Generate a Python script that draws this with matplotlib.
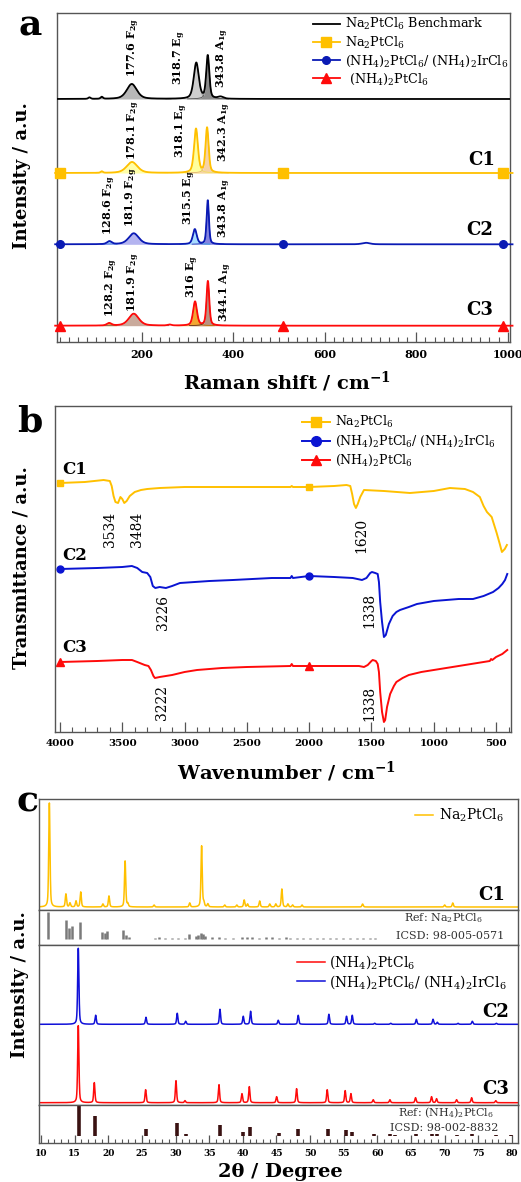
import numpy as np
import matplotlib
matplotlib.use('Agg')
import matplotlib.pyplot as plt
from matplotlib.ticker import MultipleLocator

plt.rcParams['font.family'] = ['DejaVu Serif']
plt.rcParams['mathtext.fontset'] = 'dejavuserif'

# ---------------- Panel a : Raman peak tables ----------------
raman_base = [243, 169, 97.7, 16.3]          # baseline of each offset trace
bench_pos = [85, 112, 177.6, 318.7, 343.8, 372]
bench_hgt = [1.5, 2, 15, 36, 43, 2]
bench_fwhm = [6, 6, 26, 13, 8, 14]
c1r_pos = [112, 178.1, 318.1, 342.3]
c1r_hgt = [1.5, 11, 44, 45]
c1r_fwhm = [6, 28, 10, 8]
c2r_pos = [128.6, 181.9, 315.5, 343.8, 690]
c2r_hgt = [3, 11, 15, 44, 1.5]
c2r_fwhm = [12, 26, 10, 6, 20]
c3r_pos = [128.2, 181.9, 260, 316, 344.1]
c3r_hgt = [2.5, 12, 1, 24, 44.5]
c3r_fwhm = [12, 26, 10, 10, 7]
raman_marker_x = [20, 508, 990]

# ---------------- Panel b : FTIR traces ----------------
ir_c1_wn = [4000, 3800, 3650, 3600, 3585, 3570, 3555, 3534, 3515, 3500, 3484, 3465, 3440, 3400, 3350,
            3300, 3200, 3000, 2500, 2150, 2140, 2130, 2000, 1800, 1700, 1670, 1655, 1640, 1625, 1610,
            1590, 1560, 1400, 1191, 1000, 870, 750, 685, 630, 600, 573, 535, 495, 470, 453, 430, 413]
ir_c1_t = [249, 250, 252, 251, 246, 236, 230, 229, 235, 233, 229, 231, 236, 240, 242,
           243, 244, 245, 245, 245, 246, 245, 245, 246, 247, 246, 238, 228, 224, 228,
           235, 242, 241, 239, 241, 244, 243, 240, 235, 226, 220, 215, 199, 188, 180, 183, 187]
ir_c2_wn = [4000, 3700, 3500, 3423, 3380, 3340, 3300, 3275, 3255, 3235, 3200, 3150, 3100, 3037, 2800,
            2612, 2300, 2150, 2140, 2130, 2000, 1800, 1650, 1576, 1540, 1510, 1496, 1470, 1450, 1440,
            1430, 1415, 1400, 1385, 1360, 1330, 1300, 1271, 1200, 1135, 1000, 900, 800, 685, 600,
            524, 480, 450, 428, 410]
ir_c2_t = [163, 164, 165, 166, 164, 160, 159, 155, 146, 144, 145, 144, 146, 149, 151,
           152, 154, 154, 156, 154, 156, 155, 154, 152, 154, 159, 160, 159, 158, 150,
           130, 110, 95, 97, 108, 116, 120, 122, 125, 128, 131, 132, 133, 133, 136,
           140, 144, 148, 152, 158]
ir_c3_wn = [4000, 3700, 3500, 3422, 3380, 3320, 3290, 3270, 3250, 3238, 3200, 3150, 3100, 3000, 2900,
            2700, 2500, 2150, 2140, 2130, 2000, 1800, 1600, 1560, 1530, 1500, 1490, 1465, 1450, 1440,
            1430, 1415, 1400, 1390, 1375, 1350, 1320, 1300, 1250, 1200, 1100, 1000, 900, 800, 700,
            600, 550, 540, 530, 500, 450, 410]
ir_c3_t = [70, 71, 72, 72, 70, 67, 66, 62, 56, 54, 55, 56, 57, 60, 62,
           64, 65, 66, 68, 66, 66, 66, 66, 65, 67, 71, 72, 71, 68, 60,
           40, 20, 10, 12, 25, 38, 46, 50, 54, 57, 60, 62, 64, 66, 68,
           70, 71, 73, 72, 75, 78, 82]
ir_marker_wn = [4000, 2000]
ir_labels = ['3534', '3484', '1620', '3226', '1338', '3222', '1338']
ir_label_x = [3599, 3382, 1584, 3173, 1520, 3181, 1520]
ir_label_y = [203, 203, 197, 119, 122, 30, 29]

# ---------------- Panel c : XRD peak tables ----------------
xrd_c1_pos = [11.24, 13.7, 14.3, 15.2, 15.9, 19.2, 20.1, 22.5, 22.9, 26.8, 32.1, 33.87, 34.2, 34.8,
              37.3, 39.1, 40.2, 40.7, 42.5, 44.0, 44.9, 45.8, 46.7, 47.4, 48.8, 57.8, 70.0, 71.2]
xrd_c1_int = [104, 13, 4, 6, 15, 3, 11, 46, 3, 2, 4, 61, 4, 3,
              2, 2, 7, 3, 6, 3, 3, 18, 3, 2, 2, 3, 2, 4]
xrd_c1_base = 3
ref_na_pos = [11.04, 13.67, 14.16, 14.65, 15.8, 19.1, 19.46, 19.85, 22.2, 22.6, 23.1, 26.9, 27.6, 28.4,
              29.4, 30.4, 31.4, 32.0, 33.0, 33.4, 33.8, 34.1, 34.4, 35.4, 36.4, 37.4, 38.6, 39.9, 40.6,
              41.4, 42.4, 43.4, 44.4, 45.4, 46.4, 47.0, 48.0, 49.0, 50.0, 51.0, 51.95, 52.9, 53.9, 54.9,
              55.9, 56.9, 57.9, 58.9, 59.6]
ref_na_int = [27, 19, 11, 13, 17, 7, 6, 8, 9, 4, 2, 1.5, 2, 1.5,
              1.5, 1, 1, 5, 3, 4, 6, 5, 3, 2, 2, 1.5, 1.5, 2, 2,
              2, 1.5, 2, 2, 1.5, 2, 1.5, 1.5, 1, 1.5, 1.5, 1, 1.5, 1.5, 1,
              1.5, 1.5, 1, 1.5, 1]
ref_na_base = 5.7
xrd_c2_pos = [15.54, 18.12, 25.6, 30.25, 31.5, 36.6, 40.06, 41.15, 45.26, 48.23, 52.79, 55.41, 56.26,
              59.6, 61.98, 65.79, 68.27, 68.91, 71.98, 74.11, 77.68]
xrd_c2_int = [76, 9, 7, 11, 3, 15, 8, 13, 4, 9, 10, 8, 9, 1, 1, 5, 5, 2, 1, 3, 1]
xrd_c2_base = 80.7
xrd_c3_pos = [15.54, 17.92, 25.55, 30.06, 31.40, 36.45, 39.87, 40.96, 45.02, 47.99, 52.54, 55.21, 56.06,
              59.38, 61.86, 65.67, 68.05, 68.79, 71.77, 74.0, 77.6]
xrd_c3_int = [77, 20, 13, 22, 2, 18, 9, 16, 6, 14, 13, 12, 9, 3, 3, 5, 6, 4, 3, 5, 2]
xrd_c3_base = 2.3
ref_nh_pos = [15.6, 18.0, 25.65, 30.2, 31.55, 36.6, 40.0, 41.1, 45.3, 48.2, 52.7, 55.3, 56.2, 59.5,
              61.9, 62.6, 65.7, 68.1, 68.8, 71.9, 74.0, 77.6, 79.8]
ref_nh_int = [30, 20, 7, 13, 2, 11, 4, 9, 3, 7, 7, 6, 4, 2, 2, 1, 2, 2, 2, 1, 2, 1, 1]
ref_nh_base = 7

YEL = '#FFC000'
BLU = '#1414c8'
RED = '#ff0a0a'
SPINE = '#555555'


def pv(x, c, h, w):
    g = np.exp(-4 * np.log(2) * ((x - c) / w) ** 2)
    lo = 1.0 / (1 + 4 * ((x - c) / w) ** 2)
    return h * (0.55 * g + 0.45 * lo)


W, H = 521, 1182
fig = plt.figure(figsize=(W / 100, H / 100), dpi=100)


def axes_px(l, t, r, b):
    return fig.add_axes([l / W, 1 - b / H, (r - l) / W, (b - t) / H])


def style_spines(ax):
    for s in ax.spines.values():
        s.set_color(SPINE)
        s.set_linewidth(1.0)


# =========================== Panel a ===========================
axa = axes_px(57, 13, 510, 342)
xr = np.arange(10, 1011, 0.5)
samples = [
    (bench_pos, bench_hgt, bench_fwhm, '#000000', None, 'Na$_2$PtCl$_6$ Benchmark',
     [2, 3, 4], ['#b8b8b8', '#cdcdcd', '#8c8c8c'], ['#808080', '#909090', '#505050']),
    (c1r_pos, c1r_hgt, c1r_fwhm, YEL, 's', 'Na$_2$PtCl$_6$',
     [1, 2, 3], ['#ffffa8', '#ffff9c', '#f6d2a6'], ['#f0e060', '#f0e060', '#e0b070']),
    (c2r_pos, c2r_hgt, c2r_fwhm, '#0a1ab4', 'o', '(NH$_4$)$_2$PtCl$_6$/ (NH$_4$)$_2$IrCl$_6$',
     [0, 1, 2, 3], ['#8ccfff', '#b4b4f0', '#a8dcff', '#8484e0'], ['#40a0ff', '#6060d0', '#2ca0e0', '#3030b0']),
    (c3r_pos, c3r_hgt, c3r_fwhm, RED, '^', ' (NH$_4$)$_2$PtCl$_6$',
     [0, 1, 3, 4], ['#f0b040', '#c9aa9c', '#f2a630', '#b99282'], ['#d08000', '#806060', '#c07000', '#603020']),
]
msizes = {'s': 7.5, 'o': 5.5, '^': 6.5}
for k, (pos, hgt, fw, col, mk, lab, fidx, fcol, ecol) in enumerate(samples):
    base = raman_base[k]
    y = base + sum(pv(xr, p, h, w) for p, h, w in zip(pos, hgt, fw))
    for j, i in enumerate(fidx):
        comp = pv(xr, pos[i], hgt[i], fw[i])
        m = comp > 0.15
        axa.fill_between(xr[m], base, base + comp[m], color=fcol[j], lw=0, zorder=2)
        axa.plot(xr[m], base + comp[m], color=ecol[j], lw=0.6, zorder=2.5)
    if mk is None:
        axa.plot(xr, y, color=col, lw=1.3, label=lab, zorder=3)
    else:
        idx = [int(np.argmin(np.abs(xr - v))) for v in raman_marker_x]
        axa.plot(xr, y, color=col, lw=1.3, marker=mk, ms=msizes[mk], markevery=idx,
                 label=lab, zorder=3, clip_on=False)

axa.set_xlim(14, 1005)
axa.set_ylim(0, 329)
axa.set_yticks([])
axa.set_xticks([200, 400, 600, 800, 1000])
axa.xaxis.set_minor_locator(MultipleLocator(20))
axa.tick_params(axis='x', which='major', direction='in', length=7, width=0.9, colors=SPINE,
                labelcolor='black', labelsize=8, pad=5)
axa.tick_params(axis='x', which='minor', direction='in', length=3.5, width=0.8, colors=SPINE)
for t in axa.get_xticklabels():
    t.set_fontweight('bold')
style_spines(axa)
axa.legend(loc='upper left', bbox_to_anchor=(0.565, 0.99), frameon=False, fontsize=9.2,
           handlelength=2.1, handletextpad=0.4, labelspacing=0.2, borderpad=0, borderaxespad=0)

ann_a = [
    ('177.6 F$_{\\mathbf{2g}}$', 181, 265), ('318.7 E$_{\\mathbf{g}}$', 282, 257),
    ('343.8 A$_{\\mathbf{1g}}$', 376, 254),
    ('178.1 F$_{\\mathbf{2g}}$', 181, 182), ('318.1 E$_{\\mathbf{g}}$', 286, 184),
    ('342.3 A$_{\\mathbf{1g}}$', 380, 180),
    ('128.6 F$_{\\mathbf{2g}}$', 130, 107), ('181.9 F$_{\\mathbf{2g}}$', 177, 115),
    ('315.5 E$_{\\mathbf{g}}$', 304, 117), ('343.8 A$_{\\mathbf{1g}}$', 380, 104),
    ('128.2 F$_{\\mathbf{2g}}$', 133, 25), ('181.9 F$_{\\mathbf{2g}}$', 181, 30),
    ('316 E$_{\\mathbf{g}}$', 311, 44), ('344.1 A$_{\\mathbf{1g}}$', 384, 20),
]
for s, xx, yy in ann_a:
    axa.text(xx, yy, s, rotation=90, ha='center', va='bottom', fontsize=8, fontweight='bold', zorder=5)
for s, xx, yy in [('C1', 943, 182), ('C2', 938, 112), ('C3', 938, 32)]:
    axa.text(xx, yy, s, ha='center', va='center', fontsize=13, fontweight='bold')

# =========================== Panel b ===========================
axb = axes_px(55, 406, 511, 732)
for wn, tt, col, mk, lab, ms in [
        (ir_c1_wn, ir_c1_t, YEL, 's', 'Na$_2$PtCl$_6$', 5),
        (ir_c2_wn, ir_c2_t, '#0a14d2', 'o', '(NH$_4$)$_2$PtCl$_6$/ (NH$_4$)$_2$IrCl$_6$', 5),
        (ir_c3_wn, ir_c3_t, RED, '^', '(NH$_4$)$_2$PtCl$_6$', 5.5)]:
    idx = [wn.index(v) for v in ir_marker_wn]
    axb.plot(wn, tt, color=col, lw=1.4, marker=mk, ms=ms, markevery=idx, label=lab)
axb.set_xlim(4040, 380)
axb.set_ylim(0, 326)
axb.set_yticks([])
axb.set_xticks([4000, 3500, 3000, 2500, 2000, 1500, 1000, 500])
axb.xaxis.set_minor_locator(MultipleLocator(100))
axb.tick_params(axis='x', which='major', direction='in', length=7, width=0.9, colors=SPINE,
                labelcolor='black', labelsize=7.5, pad=5)
axb.tick_params(axis='x', which='minor', direction='in', length=3.5, width=0.8, colors=SPINE)
for t in axb.get_xticklabels():
    t.set_fontweight('bold')
style_spines(axb)
lb = axb.legend(loc='upper left', bbox_to_anchor=(0.542, 0.975), frameon=False, fontsize=9,
                handlelength=2.2, handletextpad=0.4, labelspacing=0.3, borderpad=0, borderaxespad=0,
                markerscale=1.4)
for s, xx, yy in zip(ir_labels, ir_label_x, ir_label_y):
    axb.text(xx, yy, s, rotation=90, ha='center', va='center', fontsize=10)
for s, xx, yy in [('C1', 3880, 262), ('C2', 3880, 176), ('C3', 3880, 84)]:
    axb.text(xx, yy, s, ha='center', va='center', fontsize=12, fontweight='bold')

# =========================== Panel c ===========================
axc1 = axes_px(39, 799, 518, 910)
axr1 = axes_px(39, 910, 518, 945)
axc2 = axes_px(39, 945, 518, 1105)
axr2 = axes_px(39, 1105, 518, 1143)
xx2 = np.arange(9.7, 80.9, 0.01)
fw_x = 0.22
y1 = xrd_c1_base + sum(pv(xx2, p, h, fw_x) for p, h in zip(xrd_c1_pos, xrd_c1_int))
axc1.plot(xx2, y1, color=YEL, lw=1.1, label='Na$_2$PtCl$_6$')
axc1.set_ylim(0, 111)
axr1.vlines(ref_na_pos, ref_na_base, np.array(ref_na_int) + ref_na_base, color='#7a7a7a', lw=1.8)
axr1.set_ylim(0, 35)
y3 = xrd_c3_base + sum(pv(xx2, p, h, fw_x) for p, h in zip(xrd_c3_pos, xrd_c3_int))
y2 = xrd_c2_base + sum(pv(xx2, p, h, fw_x) for p, h in zip(xrd_c2_pos, xrd_c2_int))
axc2.plot(xx2, y3, color=RED, lw=1.1, label='(NH$_4$)$_2$PtCl$_6$')
axc2.plot(xx2, y2, color='#1010d8', lw=1.1, label='(NH$_4$)$_2$PtCl$_6$/ (NH$_4$)$_2$IrCl$_6$')
axc2.set_ylim(0, 160)
axr2.vlines(ref_nh_pos, ref_nh_base, np.array(ref_nh_int) + ref_nh_base, color='#3a1212', lw=2.6)
axr2.set_ylim(0, 38)
for ax in (axc1, axr1, axc2, axr2):
    ax.set_xlim(9.7, 80.9)
    ax.set_yticks([])
    style_spines(ax)
for ax in (axc1, axr1, axc2):
    ax.set_xticks([])
axr2.set_xticks(np.arange(10, 81, 5))
axr2.xaxis.set_minor_locator(MultipleLocator(1))
axr2.tick_params(axis='x', which='major', direction='in', length=6, width=0.9, colors=SPINE,
                 labelcolor='black', labelsize=6.5, pad=4)
axr2.tick_params(axis='x', which='minor', direction='in', length=3, width=0.8, colors=SPINE)
for t in axr2.get_xticklabels():
    t.set_fontweight('bold')
axc1.legend(loc='upper left', bbox_to_anchor=(0.785, 0.93), frameon=False, fontsize=10,
            handlelength=1.3, handletextpad=0.4, borderpad=0, borderaxespad=0)
axc2.legend(loc='upper left', bbox_to_anchor=(0.539, 0.95), frameon=False, fontsize=10,
            handlelength=2.0, handletextpad=0.3, labelspacing=0.15, borderpad=0, borderaxespad=0)
axc1.text(77.0, 15, 'C1', ha='center', va='center', fontsize=13, fontweight='bold')
axc2.text(77.6, 93, 'C2', ha='center', va='center', fontsize=13, fontweight='bold')
axc2.text(77.6, 16, 'C3', ha='center', va='center', fontsize=13, fontweight='bold')
axr1.text(69.8, 27, 'Ref: Na$_2$PtCl$_6$', ha='center', va='center', fontsize=8, color='#333333')
axr1.text(70.8, 9, 'ICSD: 98-005-0571', ha='center', va='center', fontsize=8, color='#333333')
axr2.text(70.2, 30, 'Ref: (NH$_4$)$_2$PtCl$_6$', ha='center', va='center', fontsize=8, color='#333333')
axr2.text(69.9, 15, 'ICSD: 98-002-8832', ha='center', va='center', fontsize=8, color='#333333')

# =========================== Figure-level text ===========================
fig.text(22 / W, 1 - 176 / H, 'Intensity / a.u.', rotation=90, ha='center', va='center',
         fontsize=13, fontweight='bold')
fig.text(22 / W, 1 - 568 / H, 'Transmittance / a.u.', rotation=90, ha='center', va='center',
         fontsize=13, fontweight='bold')
fig.text(20 / W, 1 - 985 / H, 'Intensity / a.u.', rotation=90, ha='center', va='center',
         fontsize=13, fontweight='bold')
fig.text(287 / W, 1 - 382 / H, 'Raman shift / cm$^{\\mathbf{-1}}$', ha='center', va='center',
         fontsize=14, fontweight='bold')
fig.text(286 / W, 1 - 772 / H, 'Wavenumber / cm$^{\\mathbf{-1}}$', ha='center', va='center',
         fontsize=14, fontweight='bold')
fig.text(280 / W, 1 - 1172 / H, '2θ / Degree', ha='center', va='center',
         fontsize=14, fontweight='bold')
fig.text(18 / W, 1 - 35 / H, 'a', ha='left', va='baseline', fontsize=26, fontweight='bold')
fig.text(17 / W, 1 - 431 / H, 'b', ha='left', va='baseline', fontsize=26, fontweight='bold')
fig.text(17 / W, 1 - 812 / H, 'c', ha='left', va='baseline', fontsize=26, fontweight='bold')

fig.savefig('out.png', dpi=100)
